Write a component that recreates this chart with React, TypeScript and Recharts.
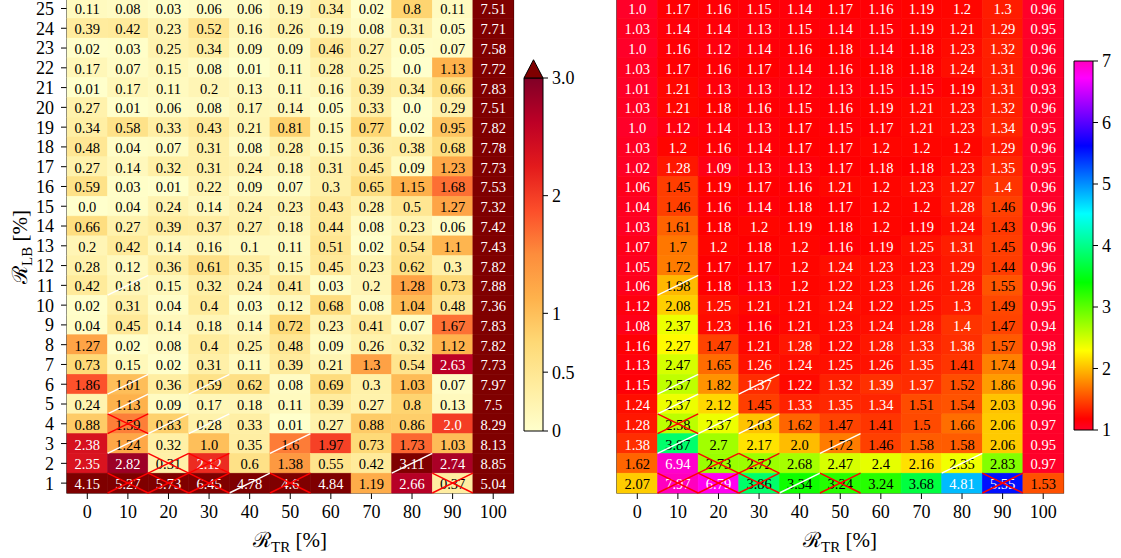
import React from "react"
import { ScatterChart, Scatter, XAxis, YAxis, ReferenceArea, ComposedChart } from "recharts"

// R_TR columns and R_LB rows (rows listed top to bottom: 25 ... 1)
const trValues = [0, 10, 20, 30, 40, 50, 60, 70, 80, 90, 100]
const lbValues = [25, 24, 23, 22, 21, 20, 19, 18, 17, 16, 15, 14, 13, 12, 11, 10, 9, 8, 7, 6, 5, 4, 3, 2, 1]
const lbTicks = [1, 2, 3, 4, 5, 6, 7, 8, 9, 10, 11, 12, 13, 14, 15, 16, 17, 18, 19, 20, 21, 22, 23, 24, 25]

// left panel
const leftRows = [
  [0.11, 0.08, 0.03, 0.06, 0.06, 0.19, 0.34, 0.02, 0.8, 0.11, 7.51],
  [0.39, 0.42, 0.23, 0.52, 0.16, 0.26, 0.19, 0.08, 0.31, 0.05, 7.71],
  [0.02, 0.03, 0.25, 0.34, 0.09, 0.09, 0.46, 0.27, 0.05, 0.07, 7.58],
  [0.17, 0.07, 0.15, 0.08, 0.01, 0.11, 0.28, 0.25, 0.0, 1.13, 7.72],
  [0.01, 0.17, 0.11, 0.2, 0.13, 0.11, 0.16, 0.39, 0.34, 0.66, 7.83],
  [0.27, 0.01, 0.06, 0.08, 0.17, 0.14, 0.05, 0.33, 0.0, 0.29, 7.51],
  [0.34, 0.58, 0.33, 0.43, 0.21, 0.81, 0.15, 0.77, 0.02, 0.95, 7.82],
  [0.48, 0.04, 0.07, 0.31, 0.08, 0.28, 0.15, 0.36, 0.38, 0.68, 7.78],
  [0.27, 0.14, 0.32, 0.31, 0.24, 0.18, 0.31, 0.45, 0.09, 1.23, 7.73],
  [0.59, 0.03, 0.01, 0.22, 0.09, 0.07, 0.3, 0.65, 1.15, 1.68, 7.53],
  [0.0, 0.04, 0.24, 0.14, 0.24, 0.23, 0.43, 0.28, 0.5, 1.27, 7.32],
  [0.66, 0.27, 0.39, 0.37, 0.27, 0.18, 0.44, 0.08, 0.23, 0.06, 7.42],
  [0.2, 0.42, 0.14, 0.16, 0.1, 0.11, 0.51, 0.02, 0.54, 1.1, 7.43],
  [0.28, 0.12, 0.36, 0.61, 0.35, 0.15, 0.45, 0.23, 0.62, 0.3, 7.82],
  [0.42, 0.18, 0.15, 0.32, 0.24, 0.41, 0.03, 0.2, 1.28, 0.73, 7.88],
  [0.02, 0.31, 0.04, 0.4, 0.03, 0.12, 0.68, 0.08, 1.04, 0.48, 7.36],
  [0.04, 0.45, 0.14, 0.18, 0.14, 0.72, 0.23, 0.41, 0.07, 1.67, 7.83],
  [1.27, 0.02, 0.08, 0.4, 0.25, 0.48, 0.09, 0.26, 0.32, 1.12, 7.82],
  [0.73, 0.15, 0.02, 0.31, 0.11, 0.39, 0.21, 1.3, 0.54, 2.63, 7.73],
  [1.86, 1.01, 0.36, 0.59, 0.62, 0.08, 0.69, 0.3, 1.03, 0.07, 7.97],
  [0.24, 1.13, 0.09, 0.17, 0.18, 0.11, 0.39, 0.27, 0.8, 0.13, 7.5],
  [0.88, 1.59, 0.83, 0.28, 0.33, 0.01, 0.27, 0.88, 0.86, 2.0, 8.29],
  [2.38, 1.24, 0.32, 1.0, 0.35, 1.6, 1.97, 0.73, 1.73, 1.03, 8.13],
  [2.35, 2.82, 0.31, 2.12, 0.6, 1.38, 0.55, 0.42, 3.11, 2.74, 8.85],
  [4.15, 5.27, 5.73, 6.45, 4.78, 4.6, 4.84, 1.19, 2.66, 0.37, 5.04],
]

// right panel
const rightRows = [
  [1.0, 1.17, 1.16, 1.15, 1.14, 1.17, 1.16, 1.19, 1.2, 1.3, 0.96],
  [1.03, 1.14, 1.14, 1.13, 1.15, 1.14, 1.15, 1.19, 1.21, 1.29, 0.95],
  [1.0, 1.16, 1.12, 1.14, 1.16, 1.18, 1.14, 1.18, 1.23, 1.32, 0.96],
  [1.03, 1.17, 1.16, 1.17, 1.14, 1.16, 1.18, 1.18, 1.24, 1.31, 0.96],
  [1.01, 1.21, 1.13, 1.13, 1.12, 1.13, 1.15, 1.15, 1.19, 1.31, 0.93],
  [1.03, 1.21, 1.18, 1.16, 1.15, 1.16, 1.19, 1.21, 1.23, 1.32, 0.96],
  [1.0, 1.12, 1.14, 1.13, 1.17, 1.15, 1.17, 1.21, 1.23, 1.34, 0.95],
  [1.03, 1.2, 1.16, 1.14, 1.17, 1.17, 1.2, 1.2, 1.2, 1.29, 0.96],
  [1.02, 1.28, 1.09, 1.13, 1.13, 1.17, 1.18, 1.18, 1.23, 1.35, 0.95],
  [1.06, 1.45, 1.19, 1.17, 1.16, 1.21, 1.2, 1.23, 1.27, 1.4, 0.96],
  [1.04, 1.46, 1.16, 1.14, 1.18, 1.17, 1.2, 1.2, 1.28, 1.46, 0.96],
  [1.03, 1.61, 1.18, 1.2, 1.19, 1.18, 1.2, 1.19, 1.24, 1.43, 0.96],
  [1.07, 1.7, 1.2, 1.18, 1.2, 1.16, 1.19, 1.25, 1.31, 1.45, 0.96],
  [1.05, 1.72, 1.17, 1.17, 1.2, 1.24, 1.23, 1.23, 1.29, 1.44, 0.96],
  [1.06, 1.98, 1.18, 1.13, 1.2, 1.22, 1.23, 1.26, 1.28, 1.55, 0.96],
  [1.12, 2.08, 1.25, 1.21, 1.21, 1.24, 1.22, 1.25, 1.3, 1.49, 0.95],
  [1.08, 2.37, 1.23, 1.16, 1.21, 1.23, 1.24, 1.28, 1.4, 1.47, 0.94],
  [1.16, 2.27, 1.47, 1.21, 1.28, 1.22, 1.28, 1.33, 1.38, 1.57, 0.98],
  [1.13, 2.47, 1.65, 1.26, 1.24, 1.25, 1.26, 1.35, 1.41, 1.74, 0.94],
  [1.15, 2.57, 1.82, 1.37, 1.22, 1.32, 1.39, 1.37, 1.52, 1.86, 0.96],
  [1.24, 2.37, 2.12, 1.45, 1.33, 1.35, 1.34, 1.51, 1.54, 2.03, 0.96],
  [1.28, 2.58, 2.37, 2.03, 1.62, 1.47, 1.41, 1.5, 1.66, 2.06, 0.97],
  [1.38, 3.87, 2.7, 2.17, 2.0, 1.72, 1.46, 1.58, 1.58, 2.06, 0.95],
  [1.62, 6.94, 2.73, 2.72, 2.68, 2.47, 2.4, 2.16, 2.35, 2.83, 0.97],
  [2.07, 7.97, 6.79, 3.86, 3.34, 3.24, 3.24, 3.68, 4.81, 5.55, 1.53],
]

// [R_TR, R_LB] cells marked with a white slash / a red cross (same in both panels)
const slashCells = [[10, 11], [10, 6], [10, 5], [10, 3], [20, 4], [30, 6], [30, 4], [40, 1], [50, 3], [80, 2]]
const crossCells = [[10, 4], [20, 2], [30, 2], [10, 1], [20, 1], [30, 1], [50, 1], [90, 1]]

const leftBarTicks = [0, 0.5, 1, 2, 3]
const rightBarTicks = [1, 2, 3, 4, 5, 6, 7]

const SERIF = "'Liberation Serif', 'DejaVu Serif', serif"
const PLOT_W = 446.5
const PLOT_H = 494.4
const CELL_W = PLOT_W / 11
const CELL_H = PLOT_H / 25

const ylOrRd = ["#ffffcc", "#ffeda0", "#fed976", "#feb24c", "#fd8d3c", "#fc4e2a", "#e31a1c", "#bd0026", "#800026"]
const gistRainbow: [number, string][] = [
  [0, "#ff0029"], [0.03, "#ff0000"], [0.215, "#ffff00"], [0.4, "#00ff00"],
  [0.586, "#00ffff"], [0.77, "#0000ff"], [0.954, "#ff00ff"], [1, "#ff00bf"],
]

const hexRgb = (h: string) => [1, 3, 5].map((i) => parseInt(h.slice(i, i + 2), 16))

function ramp(stops: [number, string][], t: number) {
  const u = Math.max(0, Math.min(1, t))
  for (let i = 1; i < stops.length; i++) {
    if (u <= stops[i][0]) {
      const f = (u - stops[i - 1][0]) / (stops[i][0] - stops[i - 1][0])
      const a = hexRgb(stops[i - 1][1])
      const b = hexRgb(stops[i][1])
      const c = a.map((v, k) => Math.round(v + (b[k] - v) * f))
      return `rgb(${c[0]},${c[1]},${c[2]})`
    }
  }
  return stops[stops.length - 1][1]
}

const ylOrRdStops: [number, string][] = ylOrRd.map((c, i) => [i / 8, c])
const leftColor = (v: number) => (v > 3 ? "#7f0000" : ramp(ylOrRdStops, v / 3))
const leftText = (v: number) => (v >= 1.99 ? "#fff" : "#000")
const rightColor = (v: number) => ramp(gistRainbow, (v - 1) / 6)
const rightText = (v: number) => (v >= 1.405 && v < 4.5 ? "#000" : "#fff")

const fmt = (v: number) => (Number.isInteger(v) ? v.toFixed(1) : String(v))

const toPoints = (rows: number[][]) =>
  rows.flatMap((row, i) => row.map((v, j) => ({ x: trValues[j], y: lbValues[i], v })))
const markPoints = (cells: number[][]) => cells.map(([x, y]) => ({ x, y }))

const makeCell = (color: (v: number) => string, textColor: (v: number) => string) => (props: any) => {
  const { cx, cy, payload } = props
  const fill = color(payload.v)
  return (
    <g>
      <rect x={cx - CELL_W / 2} y={cy - CELL_H / 2} width={CELL_W} height={CELL_H} fill={fill} stroke={fill} strokeWidth={0.6} />
      <text x={cx} y={cy + 1} textAnchor="middle" dominantBaseline="central" fontSize={14.5} fontFamily={SERIF} fill={textColor(payload.v)}>
        {fmt(payload.v)}
      </text>
    </g>
  )
}

const Slash = (props: any) => {
  const { cx, cy } = props
  return <line x1={cx - CELL_W / 2} y1={cy + CELL_H / 2} x2={cx + CELL_W / 2} y2={cy - CELL_H / 2} stroke="#fff" strokeWidth={1.4} />
}

const Cross = (props: any) => {
  const { cx, cy } = props
  return (
    <g stroke="#ff0000" strokeWidth={1.4}>
      <line x1={cx - CELL_W / 2} y1={cy - CELL_H / 2} x2={cx + CELL_W / 2} y2={cy + CELL_H / 2} />
      <line x1={cx - CELL_W / 2} y1={cy + CELL_H / 2} x2={cx + CELL_W / 2} y2={cy - CELL_H / 2} />
    </g>
  )
}

const tickStyle = { fill: "#000", fontSize: 18, fontFamily: SERIF }

function Heatmap({ rows, color, textColor, showY, left }: any) {
  return (
    <div style={{ position: "absolute", left, top: -20 }}>
      <ScatterChart
        width={showY ? 530 : 520}
        height={580}
        margin={{ top: 18.6, right: 16.5, bottom: 27, left: showY ? 0 : 57 }}
      >
        <XAxis
          type="number"
          dataKey="x"
          domain={[-5, 105]}
          ticks={trValues}
          interval={0}
          height={40}
          tick={tickStyle}
          tickSize={6}
          tickMargin={6}
          tickLine={{ stroke: "#000" }}
          axisLine={false}
        />
        <YAxis
          type="number"
          dataKey="y"
          domain={[0.5, 25.5]}
          ticks={lbTicks}
          interval={0}
          width={67}
          hide={!showY}
          tick={tickStyle}
          tickSize={6}
          tickMargin={7}
          tickLine={{ stroke: "#000" }}
          axisLine={false}
        />
        <Scatter data={toPoints(rows)} shape={makeCell(color, textColor)} isAnimationActive={false} />
        <Scatter data={markPoints(slashCells)} shape={Slash} isAnimationActive={false} />
        <Scatter data={markPoints(crossCells)} shape={Cross} isAnimationActive={false} />
        <ReferenceArea x1={-5} x2={105} y1={0.5} y2={25.5} fill="none" stroke="#000" strokeWidth={1.2} ifOverflow="visible" />
      </ScatterChart>
    </div>
  )
}

const Triangle = (props: any) => {
  const { x, y, width, height } = props
  return (
    <polygon
      points={`${x},${y + height} ${x + width},${y + height} ${x + width / 2},${y}`}
      fill="#7f0000"
      stroke="#000"
      strokeWidth={1}
    />
  )
}

function ColorBar({ left, top, width, height, marginTop, marginBottom, axisWidth, domain, ticks, gradient, extend, fmtTick }: any) {
  return (
    <div style={{ position: "absolute", left, top }}>
      <ComposedChart
        width={width}
        height={height}
        data={ticks.map((t: number) => ({ x: 0.5, y: t }))}
        margin={{ top: marginTop, right: 0, bottom: marginBottom, left: 24 }}
      >
        <XAxis type="number" dataKey="x" domain={[0, 1]} hide />
        <YAxis
          type="number"
          dataKey="y"
          orientation="right"
          domain={domain}
          ticks={ticks}
          interval={0}
          width={axisWidth}
          allowDataOverflow
          tick={tickStyle}
          tickSize={5}
          tickMargin={4}
          tickLine={{ stroke: "#000" }}
          axisLine={false}
          tickFormatter={fmtTick}
        />
        <ReferenceArea x1={0} x2={1} y1={domain[0]} y2={domain[1]} fill={`url(#${gradient})`} fillOpacity={1} stroke="#000" strokeWidth={1} />
        {extend && (
          <ReferenceArea x1={0} x2={1} y1={domain[1]} y2={domain[1] + 0.155} ifOverflow="visible" shape={Triangle} />
        )}
      </ComposedChart>
    </div>
  )
}

function AxisLabel({ sub, x, y, rotate }: any) {
  return (
    <div
      style={{
        position: "absolute",
        left: x,
        top: y,
        transform: `translate(-50%, -50%)${rotate ? " rotate(-90deg)" : ""}`,
        fontFamily: SERIF,
        fontSize: 21,
        whiteSpace: "nowrap",
        lineHeight: 1,
      }}
    >
      <span style={{ fontFamily: "'DejaVu Serif', serif" }}>ℛ</span>
      <span style={{ fontSize: 15, position: "relative", top: 5 }}>{sub}</span> [%]
    </div>
  )
}

export default function App() {
  return (
    <div style={{ position: "absolute", left: 0, top: 0, width: 1121, height: 558, overflow: "hidden", background: "#fff" }}>
      <svg width={0} height={0} style={{ position: "absolute" }}>
        <defs>
          <linearGradient id="ylorrd" x1="0" y1="1" x2="0" y2="0">
            {ylOrRd.map((c, i) => (
              <stop key={i} offset={i / 8} stopColor={c} />
            ))}
          </linearGradient>
          <linearGradient id="rainbow" x1="0" y1="1" x2="0" y2="0">
            {gistRainbow.map(([o, c], i) => (
              <stop key={i} offset={o} stopColor={c} />
            ))}
          </linearGradient>
        </defs>
      </svg>

      <Heatmap rows={leftRows} color={leftColor} textColor={leftText} showY left={0} />
      <Heatmap rows={rightRows} color={rightColor} textColor={rightText} showY={false} left={560} />

      <ColorBar
        left={500} top={0} width={90} height={460} marginTop={78} marginBottom={29} axisWidth={47}
        domain={[0, 3]} ticks={leftBarTicks} gradient="ylorrd" extend
        fmtTick={(v: number) => (v === 3 ? "3.0" : String(v))}
      />
      <ColorBar
        left={1050} top={0} width={71} height={460} marginTop={61} marginBottom={30} axisWidth={28}
        domain={[1, 7]} ticks={rightBarTicks} gradient="rainbow" extend={false}
        fmtTick={(v: number) => String(v)}
      />

      <AxisLabel sub="TR" x={290} y={540} />
      <AxisLabel sub="TR" x={840} y={540} />
      <AxisLabel sub="LB" x={20} y={247} rotate />
    </div>
  )
}
